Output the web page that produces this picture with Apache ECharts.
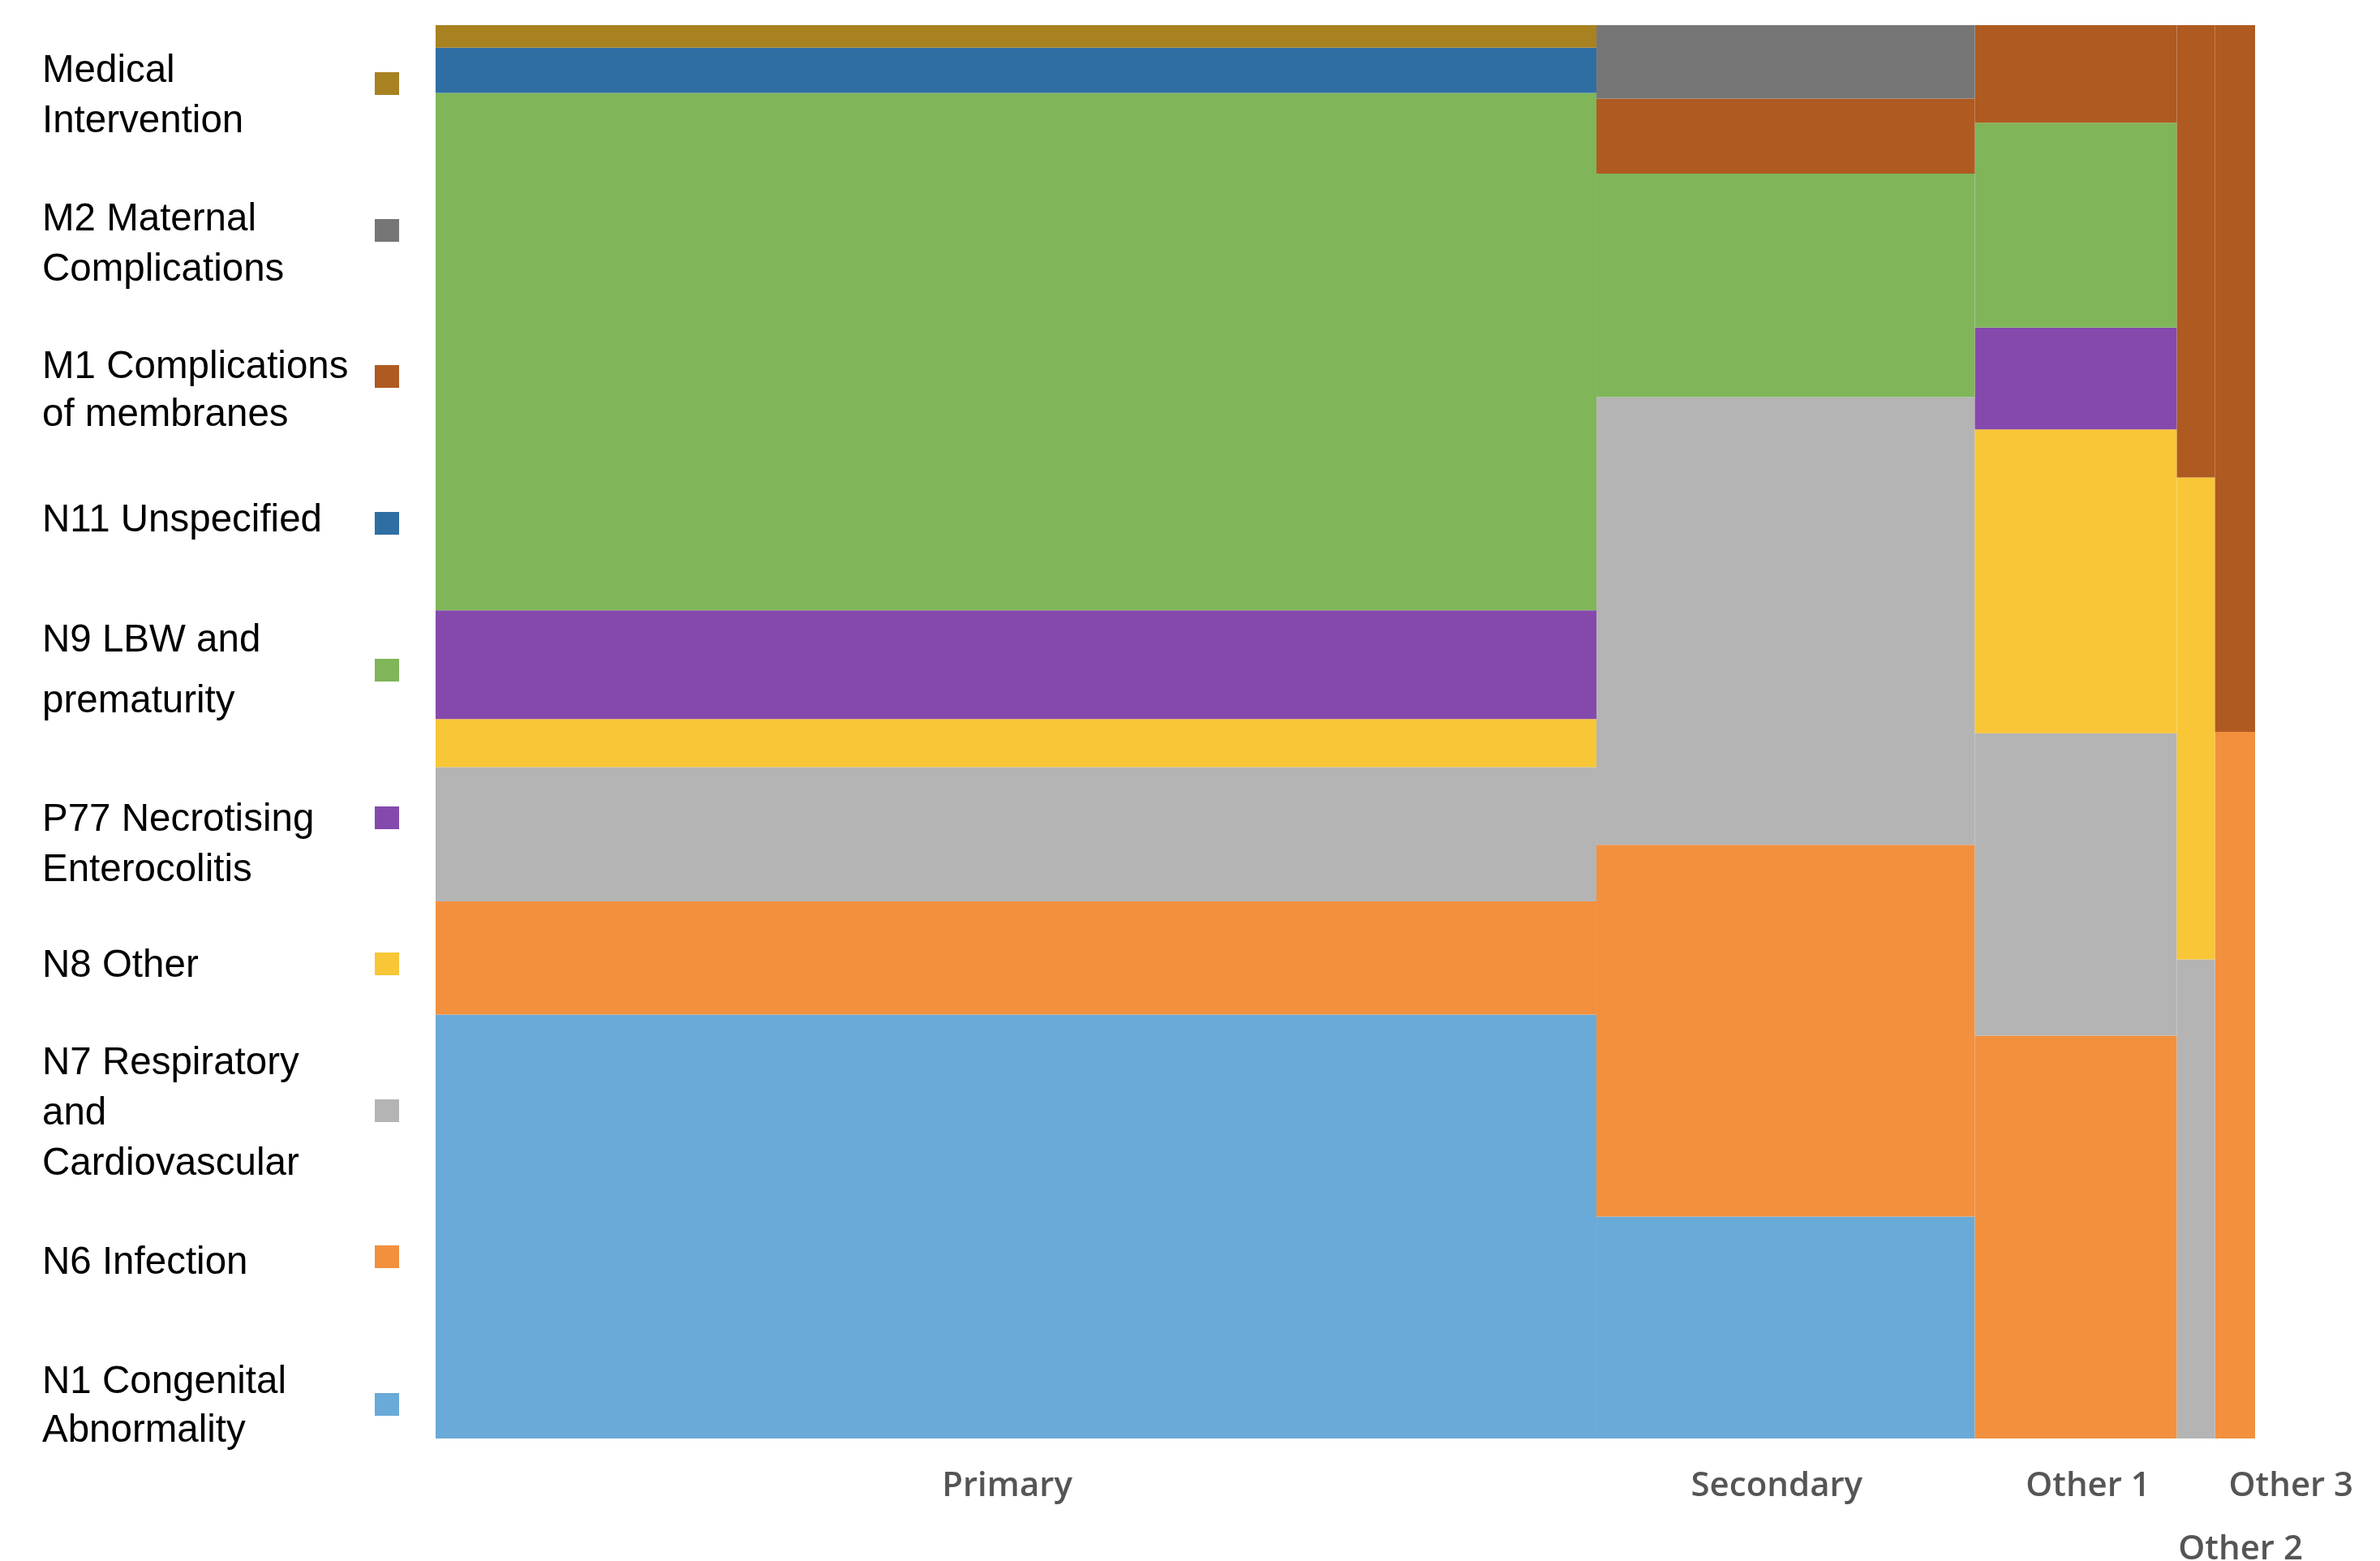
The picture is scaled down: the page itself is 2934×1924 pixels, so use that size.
<!DOCTYPE html>
<html>
<head>
<meta charset="utf-8">
<script src="https://cdn.jsdelivr.net/npm/echarts@6/dist/echarts.min.js"></script>
<style>
  html, body { margin: 0; padding: 0; background: #ffffff; }
  #chart { width: 2934px; height: 1924px; }
</style>
</head>
<body>
<div id="chart"></div>
<script>
// ---------------- DATA ----------------
const columns = ['Primary', 'Secondary', 'Other 1', 'Other 2', 'Other 3'];
// share of the total width (%) for each column
const columnWidths = [63.8, 20.8, 11.1, 2.1, 2.2];

// stacked shares (%) per column, bottom -> top
const seriesNames = [
  'N1 Congenital Abnormality',
  'N6 Infection',
  'N7 Respiratory and Cardiovascular',
  'N8 Other',
  'P77 Necrotising Enterocolitis',
  'N9 LBW and prematurity',
  'N11 Unspecified',
  'M1 Complications of membranes',
  'M2 Maternal Complications',
  'Medical Intervention'
];
const n1Congenital   = [30.0, 15.7,  0.0,  0.0,  0.0];
const n6Infection    = [ 8.0, 26.3, 28.5,  0.0, 50.0];
const n7Respiratory  = [ 9.5, 31.7, 21.4, 33.9,  0.0];
const n8Other        = [ 3.4,  0.0, 21.5, 34.1,  0.0];
const p77Necrotising = [ 7.7,  0.0,  7.2,  0.0,  0.0];
const n9LBW          = [36.6, 15.8, 14.5,  0.0,  0.0];
const n11Unspecified = [ 3.2,  0.0,  0.0,  0.0,  0.0];
const m1Membranes    = [ 0.0,  5.3,  6.9, 32.0, 50.0];
const m2Maternal     = [ 0.0,  5.2,  0.0,  0.0,  0.0];
const medicalInterv  = [ 1.6,  0.0,  0.0,  0.0,  0.0];
const seriesValues = [n1Congenital, n6Infection, n7Respiratory, n8Other, p77Necrotising,
                      n9LBW, n11Unspecified, m1Membranes, m2Maternal, medicalInterv];

// ---------------- STYLE ----------------
const seriesColors = ['#6AAAD8', '#F2903E', '#B4B4B4', '#F8C636', '#8549AD',
                      '#80B55A', '#2E6EA3', '#AF5A21', '#767676', '#A88120'];

// legend layout (top -> bottom): lines, icon centre y, text offset, line height
const legendLayout = [
  { name: 'Medical Intervention', lines: ['Medical', 'Intervention'], cy: 101, dy: 16, lh: 62 },
  { name: 'M2 Maternal Complications', lines: ['M2 Maternal', 'Complications'], cy: 282, dy: 18, lh: 62 },
  { name: 'M1 Complications of membranes', lines: ['M1 Complications', 'of membranes'], cy: 462, dy: 18, lh: 59 },
  { name: 'N11 Unspecified', lines: ['N11 Unspecified'], cy: 643, dy: -3, lh: 62 },
  { name: 'N9 LBW and prematurity', lines: ['N9 LBW and', 'prematurity'], cy: 824, dy: 1, lh: 75 },
  { name: 'P77 Necrotising Enterocolitis', lines: ['P77 Necrotising', 'Enterocolitis'], cy: 1006, dy: 34, lh: 62 },
  { name: 'N8 Other', lines: ['N8 Other'], cy: 1186, dy: 3, lh: 62 },
  { name: 'N7 Respiratory and Cardiovascular', lines: ['N7 Respiratory', 'and', 'Cardiovascular'], cy: 1367, dy: 4, lh: 62 },
  { name: 'N6 Infection', lines: ['N6 Infection'], cy: 1547, dy: 8, lh: 62 },
  { name: 'N1 Congenital Abnormality', lines: ['N1 Congenital', 'Abnormality'], cy: 1729, dy: 3, lh: 60 }
];
// category label pixel offsets from column centre / axis bottom
const labelOffsets = [[-11, 59], [-11, 59], [15, 59], [55, 137], [69, 59]];

// ---------------- BUILD ----------------
const colStart = [];
let acc = 0;
columnWidths.forEach(w => { colStart.push(acc); acc += w; });

const bases = columns.map(() => 0);
const series = seriesNames.map((name, si) => {
  const vals = seriesValues[si];
  const data = columns.map((c, ci) => {
    const item = [colStart[ci], colStart[ci] + columnWidths[ci], bases[ci], bases[ci] + vals[ci]];
    bases[ci] += vals[ci];
    return item;
  });
  return {
    type: 'custom',
    name: name,
    coordinateSystem: 'cartesian2d',
    itemStyle: { color: seriesColors[si] },
    encode: { x: [0, 1], y: [2, 3] },
    data: data,
    silent: true,
    renderItem: function (params, api) {
      const x0 = api.value(0), x1 = api.value(1), y0 = api.value(2), y1 = api.value(3);
      if (y1 - y0 <= 0) return null;
      const p0 = api.coord([x0, y1]);
      const p1 = api.coord([x1, y0]);
      return {
        type: 'rect',
        shape: { x: p0[0], y: p0[1], width: p1[0] - p0[0], height: p1[1] - p0[1] },
        style: { fill: api.visual('color') }
      };
    }
  };
});

// category labels
series.push({
  type: 'custom',
  name: 'labels',
  coordinateSystem: 'cartesian2d',
  silent: true,
  encode: { x: 0, y: 1 },
  data: columns.map((c, ci) => [colStart[ci] + columnWidths[ci] / 2, 0, ci]),
  renderItem: function (params, api) {
    const ci = api.value(2);
    const p = api.coord([api.value(0), api.value(1)]);
    return {
      type: 'text',
      x: p[0] + labelOffsets[ci][0],
      y: p[1] + labelOffsets[ci][1],
      style: {
        text: columns[ci],
        fontFamily: '"Open Sans", sans-serif',
        fontSize: 42,
        fontWeight: 600,
        fill: '#555555',
        align: 'center',
        verticalAlign: 'middle'
      }
    };
  },
  clip: false
});

const FONT = '"Liberation Sans", Arial, sans-serif';
const legends = legendLayout.map(l => {
  const n = l.lines.length;
  const padTop = l.dy > 0 ? 2 * l.dy : 0;
  const padBottom = l.dy < 0 ? -2 * l.dy : 0;
  // distance from the legend box top to the icon centre (measured behaviour)
  const iconFromTop = n * l.lh / 2 - l.dy - (l.lh - 44) / 2;
  return {
    show: true,
    orient: 'vertical',
    align: 'right',
    left: 52,
    top: l.cy - iconFromTop,
    padding: 0,
    itemWidth: 30,
    itemHeight: 28,
    icon: 'rect',
    selectedMode: false,
    data: [l.name],
    formatter: function () {
      return l.lines.map(s => '{a|' + s + '}').join('\n');
    },
    textStyle: {
      width: 405,
      padding: [padTop, 0, padBottom, 0],
      rich: {
        a: { fontFamily: FONT, fontSize: 47.5, lineHeight: l.lh, color: '#000000', align: 'left' }
      }
    }
  };
});

const option = {
  backgroundColor: '#ffffff',
  animation: false,
  grid: { left: 537, right: 154, top: 31, bottom: 151 },
  xAxis: { type: 'value', min: 0, max: 100, show: false },
  yAxis: { type: 'value', min: 0, max: 100, show: false },
  legend: legends,
  series: series
};

const chart = echarts.init(document.getElementById('chart'), null, { renderer: 'canvas' });
chart.setOption(option);
</script>
</body>
</html>
